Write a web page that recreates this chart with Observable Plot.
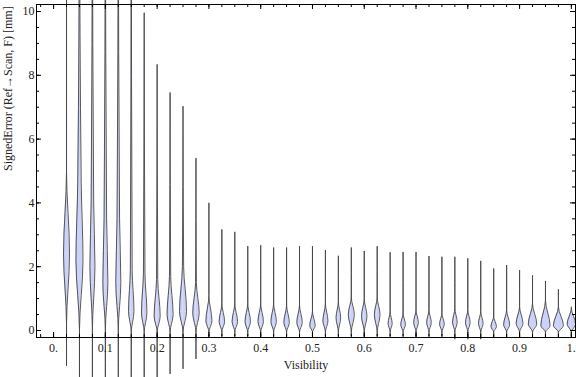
<!DOCTYPE html>
<html>
<head>
<meta charset="utf-8">
<script src="https://cdn.jsdelivr.net/npm/d3@7"></script>
<script src="https://cdn.jsdelivr.net/npm/@observablehq/plot@0.6"></script>
<style>
  body { margin: 0; background: white; }
  #chart svg { display: block; }
</style>
</head>
<body>
<div id="chart"></div>
<script>
// Visibility bins (category positions)
const visibility = [0.025,0.05,0.075,0.1,0.125,0.15,0.175,0.2,0.225,0.25,
  0.275,0.3,0.325,0.35,0.375,0.4,0.425,0.45,0.475,0.5,
  0.525,0.55,0.575,0.6,0.625,0.65,0.675,0.7,0.725,0.75,
  0.775,0.8,0.825,0.85,0.875,0.9,0.925,0.95,0.975,1.0];
// Range of signed error per bin [mm] (first bins run past the plotted range)
const errorMin = [-1.10,-2.0,-2.0,-2.0,-2.0,-2.0,-2.0,-2.0,-1.35,-1.19,
  -0.88,-0.16,-0.16,-0.16,-0.16,-0.16,-0.16,-0.16,-0.16,-0.16,
  -0.16,-0.16,-0.16,-0.16,-0.16,-0.16,-0.16,-0.16,-0.16,-0.16,
  -0.26,-0.26,-0.26,-0.19,-0.19,-0.19,-0.19,-0.19,-0.19,-0.17];
const errorMax = [14,14,14,14,14,14,9.95,8.33,7.45,7.02,
  5.39,3.99,3.16,3.08,2.63,2.66,2.59,2.59,2.63,2.63,
  2.51,2.33,2.59,2.48,2.63,2.44,2.45,2.45,2.32,2.30,
  2.30,2.25,2.17,1.93,2.04,1.88,1.72,1.54,1.28,0.73];
// Density bulge: lower end, peak location, upper end, relative peak density, upper-tail density
const bulgeLow = [0.2,0.0,0.0,0.0,0.0,-0.05,-0.05,-0.05,-0.05,-0.05,
  -0.05,-0.05,-0.05,-0.05,-0.05,-0.05,-0.05,-0.05,-0.05,-0.05,
  -0.05,-0.05,-0.05,-0.05,-0.05,-0.05,-0.05,-0.05,-0.05,-0.05,
  -0.05,-0.05,-0.05,-0.05,-0.05,-0.05,-0.05,-0.05,-0.05,-0.05];
const bulgeMode = [2.4,2.2,2.0,1.5,1.5,0.6,0.55,0.45,0.5,0.6,
  0.55,0.3,0.28,0.28,0.28,0.28,0.28,0.25,0.25,0.15,
  0.3,0.4,0.5,0.45,0.5,0.22,0.18,0.25,0.25,0.2,
  0.26,0.25,0.22,0.12,0.18,0.22,0.2,0.15,0.15,0.2];
const bulgeHigh = [5.0,4.6,4.0,3.5,3.5,1.9,1.8,1.6,1.7,2.0,
  1.5,1.1,0.85,0.85,0.85,0.85,0.85,0.8,0.8,0.6,
  0.85,0.9,1.05,1.0,1.05,0.6,0.55,0.65,0.65,0.55,
  0.7,0.65,0.6,0.45,0.65,0.75,0.85,0.95,0.75,0.7];
const bulgeDensity = [0.6,0.7,0.5,0.5,0.5,0.54,0.54,0.6,0.6,0.7,
  0.64,0.6,0.54,0.54,0.54,0.54,0.54,0.54,0.54,0.54,
  0.5,0.46,0.6,0.54,0.56,0.4,0.46,0.46,0.46,0.46,
  0.46,0.46,0.46,0.54,0.6,0.68,0.84,0.92,1.0,0.84];
const tailDensity = [0,0.35,0.25,0.25,0.25,0.18,0.15,0.12,0.12,0.12,
  0.08,0,0,0,0,0,0,0,0,0,
  0,0,0,0,0,0,0,0,0,0,
  0,0,0,0,0,0,0,0,0,0];

const xMajor = [0,0.1,0.2,0.3,0.4,0.5,0.6,0.7,0.8,0.9,1.0];
const xMinor = d3.range(-1, 41).map(i => i * 0.025);
const yMajor = [0,2,4,6,8,10];
const yMinor = d3.range(0, 21).map(i => i * 0.5);

const yTitle = "SignedError (Ref\u2192Scan, F) [mm]";
const xTitle = "Visibility";

// Violin outline knots built from the table above
const halfWidth = 0.0097; // x-units per unit of relative density
const knots = [];
visibility.forEach((v, i) => {
  const pts = [
    [errorMin[i], 0],
    [bulgeLow[i], 0],
    [bulgeMode[i], bulgeDensity[i]],
    [bulgeHigh[i], tailDensity[i]],
    [errorMax[i], 0]
  ];
  for (const [e, d] of pts) knots.push({id: i, vis: v, err: e, dens: d});
});
const leftEdge = d => d.vis - d.dens * halfWidth;
const rightEdge = d => d.vis + d.dens * halfWidth;

const W = 576, H = 377;
const mL = 36, mR = 1, mT = 4, mB = 40;
const frameH = H - mT - mB, frameW = W - mL - mR;
const majorLen = 5, minorLen = 3;
const fmtX = d => d === 0 ? "0." : d === 1 ? "1." : d.toFixed(1);
const fillC = "rgb(204,210,247)", strokeC = "#454545";

const chart = Plot.plot({
  width: W, height: H,
  marginLeft: mL, marginRight: mR, marginTop: mT, marginBottom: mB,
  style: {fontFamily: "'Liberation Serif', 'DejaVu Serif', serif", fontSize: "12px", color: "#222", background: "white"},
  x: {domain: [-0.033, 1.008]},
  y: {domain: [-0.22, 10.22]},
  marks: [
    // fills: each half uses a straight baseline at the bin centre
    Plot.areaX(knots, {y: "err", x1: "vis", x2: leftEdge, z: "id", curve: "monotone-y", fill: fillC}),
    Plot.areaX(knots, {y: "err", x1: "vis", x2: rightEdge, z: "id", curve: "monotone-y", fill: fillC}),
    // outlines
    Plot.line(knots, {x: leftEdge, y: "err", z: "id", curve: "monotone-y", stroke: strokeC, strokeWidth: 0.9}),
    Plot.line(knots, {x: rightEdge, y: "err", z: "id", curve: "monotone-y", stroke: strokeC, strokeWidth: 0.9}),
    Plot.frame({stroke: "black", strokeWidth: 1}),
    // inward ticks, bottom & top
    Plot.ruleX(xMinor, {x: d => d, insetTop: frameH - minorLen, stroke: "black"}),
    Plot.ruleX(xMajor, {x: d => d, insetTop: frameH - majorLen, stroke: "black"}),
    Plot.ruleX(xMinor, {x: d => d, insetBottom: frameH - minorLen, stroke: "black"}),
    Plot.ruleX(xMajor, {x: d => d, insetBottom: frameH - majorLen, stroke: "black"}),
    // inward ticks, left & right
    Plot.ruleY(yMinor, {y: d => d, insetRight: frameW - minorLen, stroke: "black"}),
    Plot.ruleY(yMajor, {y: d => d, insetRight: frameW - majorLen, stroke: "black"}),
    Plot.ruleY(yMinor, {y: d => d, insetLeft: frameW - minorLen, stroke: "black"}),
    Plot.ruleY(yMajor, {y: d => d, insetLeft: frameW - majorLen, stroke: "black"}),
    Plot.axisX(xMajor, {anchor: "bottom", tickSize: 0, tickPadding: 6, tickFormat: fmtX, label: null, fontSize: 12}),
    Plot.axisY(yMajor, {anchor: "left", tickSize: 0, tickPadding: 2, tickFormat: d => String(d), label: null, fontSize: 12}),
    Plot.text([yTitle], {frameAnchor: "left", dx: -28, rotate: -90, text: d => d, fontSize: 12, fill: "#222"}),
    Plot.text([xTitle], {frameAnchor: "bottom", dy: 31, text: d => d, fontSize: 12, fill: "#222"})
  ]
});
document.getElementById("chart").appendChild(chart);
</script>
</body>
</html>
